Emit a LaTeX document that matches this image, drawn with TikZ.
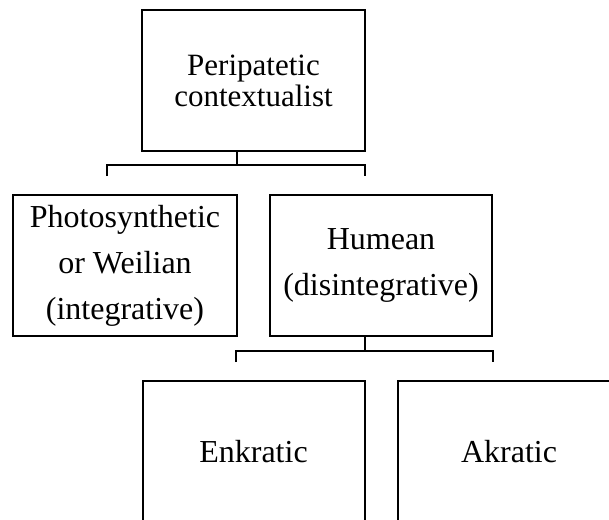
\documentclass[tikz,border=0pt]{standalone}
\usepackage{fontspec}
\setmainfont{Liberation Serif}
\usetikzlibrary{positioning}
\tikzset{
	x=1pt, y=-1pt, % one unit per pixel, y runs downwards
	every node/.style={font=\fontsize{32}{46}\selectfont, align=center}, % serif text, centred lines
	box/.style={draw, line width=2pt, minimum width=222pt, minimum height=141pt, inner sep=0pt}, % the boxes
	link/.style={line width=2pt, line join=miter}, % the brackets
}
\begin{document}
\begin{tikzpicture}
	\path[use as bounding box, clip] (0,0) rectangle (609,519);

	\node[box, minimum width=223pt, font=\fontsize{31}{31}\selectfont] (peri) at (253.5,80.5) {Peripatetic\\contextualist};
	\node[box, minimum width=224pt] (photo) at (125,265.5) {Photosynthetic\\or Weilian\\(integrative)};
	\node[box] (hume) at (381,265.5) {Humean\\(disintegrative)};
	\node[box] (enk) at (253.5,451.5) {Enkratic};
	\node[box] (akr) at (509,451.5) {Akratic};

	% upper bracket
	\coordinate (up) at (237,165);
	\coordinate (upl) at (107,176);
	\coordinate (upr) at (365,176);
	\draw[link] (up |- peri.south) -- (up);
	\draw[link] (upl) -- (upl |- up) -- (upr |- up) -- (upr);
	%
	% lower bracket
	\coordinate (low) at (365,351);
	\coordinate (lowl) at (236,362);
	\coordinate (lowr) at (493,362);
	\draw[link] (low |- hume.south) -- (low);
	\draw[link] (lowl) -- (lowl |- low) -- (lowr |- low) -- (lowr);
\end{tikzpicture}
\end{document}
